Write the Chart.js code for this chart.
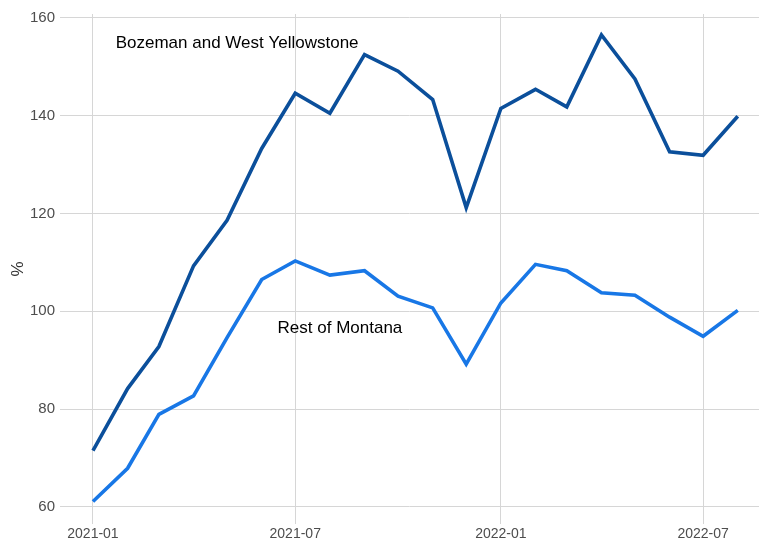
<!DOCTYPE html>
<html>
<head>
<meta charset="utf-8">
<script src="https://cdn.jsdelivr.net/npm/chart.js@4.4.1/dist/chart.umd.min.js"></script>
<style>
  html, body { margin: 0; padding: 0; background: #ffffff; }
  #wrap { width: 759px; height: 542px; position: relative; }
</style>
</head>
<body>
<div id="wrap"><canvas id="c"></canvas></div>
<script>
// ---- Data ----
const months = ["2021-01","2021-02","2021-03","2021-04","2021-05","2021-06","2021-07","2021-08","2021-09","2021-10",
                "2021-11","2021-12","2022-01","2022-02","2022-03","2022-04","2022-05","2022-06","2022-07","2022-08"];
const bozemanWY = [71.5, 84.2, 92.8, 109.3, 118.6, 133.3, 144.6, 140.5, 152.5, 149.1,
                   143.3, 121.2, 141.5, 145.4, 141.8, 156.5, 147.5, 132.6, 131.9, 139.9];
const restOfMontana = [61.1, 67.9, 78.9, 82.7, 94.6, 106.5, 110.3, 107.4, 108.3, 103.1,
                       100.7, 89.2, 101.7, 109.6, 108.3, 103.8, 103.3, 98.8, 94.9, 100.2];
const xTickLabels = ["2021-01", "2021-07", "2022-01", "2022-07"];
const yTicks = [60, 80, 100, 120, 140, 160];
const seriesLabels = ["Bozeman and West Yellowstone", "Rest of Montana"];
const labelAnchors = [
  { text: "Bozeman and West Yellowstone", date: "2021-05-10", value: 154.9 },
  { text: "Rest of Montana", date: "2021-08-10", value: 96.5 }
];

// ---- helpers: dates -> days since 2021-01-01 ----
const DAY = 86400000;
const base = Date.UTC(2021, 0, 1);
function toDays(s) {
  const p = s.split("-").map(Number);
  return (Date.UTC(p[0], p[1] - 1, p[2] || 1) - base) / DAY;
}
function fmt(d) {
  const dt = new Date(base + d * DAY);
  return dt.getUTCFullYear() + "-" + String(dt.getUTCMonth() + 1).padStart(2, "0");
}
const xs = months.map(toDays);
const xTickVals = xTickLabels.map(toDays);

const annot = {
  id: "annot",
  afterDatasetsDraw(chart) {
    const { ctx, scales } = chart;
    ctx.save();
    ctx.fillStyle = "#000000";
    ctx.font = "17px 'Liberation Sans', Arial, sans-serif";
    ctx.textAlign = "center";
    ctx.textBaseline = "middle";
    labelAnchors.forEach(a => {
      ctx.fillText(a.text, scales.x.getPixelForValue(toDays(a.date)), scales.y.getPixelForValue(a.value));
    });
    ctx.restore();
  }
};

new Chart(document.getElementById("c"), {
  type: "line",
  data: {
    datasets: [
      {
        label: seriesLabels[0],
        data: xs.map((x, i) => ({ x: x, y: bozemanWY[i] })),
        borderColor: "#0b4f9b",
        borderWidth: 3.6,
        pointRadius: 0,
        tension: 0,
        fill: false
      },
      {
        label: seriesLabels[1],
        data: xs.map((x, i) => ({ x: x, y: restOfMontana[i] })),
        borderColor: "#1877e6",
        borderWidth: 3.6,
        pointRadius: 0,
        tension: 0,
        fill: false
      }
    ]
  },
  options: {
    responsive: true,
    maintainAspectRatio: false,
    animation: false,
    devicePixelRatio: 1,
    layout: { padding: { top: 7, right: 0, bottom: 0, left: 0 } },
    plugins: {
      legend: { display: false },
      tooltip: { enabled: false }
    },
    scales: {
      x: {
        type: "linear",
        min: -29.5,
        max: 596,
        afterBuildTicks: (axis) => { axis.ticks = xTickVals.map(v => ({ value: v })); },
        afterFit: (axis) => { axis.height = 18; },
        grid: { color: "#d6d6d6", lineWidth: 1, drawTicks: false },
        border: { display: false },
        ticks: {
          callback: (v) => fmt(v),
          color: "#4d4d4d",
          font: { family: "'Liberation Sans', Arial, sans-serif", size: 14 },
          padding: 2,
          maxRotation: 0,
          autoSkip: false
        }
      },
      y: {
        min: 56.5,
        max: 160.8,
        afterBuildTicks: (axis) => { axis.ticks = yTicks.map(v => ({ value: v })); },
        afterFit: (axis) => { axis.width = 60; },
        grid: { color: "#d6d6d6", lineWidth: 1, drawTicks: false },
        border: { display: false },
        title: {
          display: true,
          text: "%",
          color: "#333333",
          font: { family: "'Liberation Sans', Arial, sans-serif", size: 17 },
          padding: { top: 8, bottom: 0 }
        },
        ticks: {
          color: "#4d4d4d",
          font: { family: "'Liberation Sans', Arial, sans-serif", size: 15 },
          padding: 5
        }
      }
    }
  },
  plugins: [annot]
});
</script>
</body>
</html>
